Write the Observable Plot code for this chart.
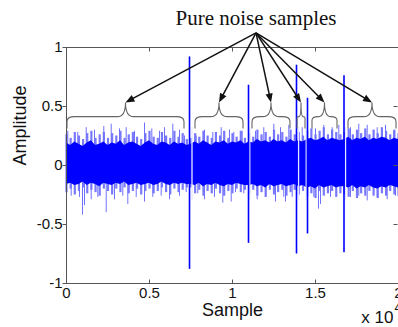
<!DOCTYPE html>
<html>
<head>
<meta charset="utf-8">
<script src="https://cdn.jsdelivr.net/npm/d3@7"></script>
<script src="https://cdn.jsdelivr.net/npm/@observablehq/plot@0.6"></script>
<style>
  html, body { margin: 0; padding: 0; background: #fff; overflow: hidden; }
  #chart svg { display: block; }
</style>
</head>
<body>
<div id="chart"></div>
<script>
// ---------- data ----------
const titleText = "Pure noise samples";
const xLabel = "Sample";
const yLabel = "Amplitude";
const xExponent = "x 10";
const xExponentPower = "4";
const xTicks = [0, 5000, 10000, 15000, 20000];
const xTickLabels = ["0", "0.5", "1", "1.5", "2"];
const yTicks = [-1, -0.5, 0, 0.5, 1];
const yTickLabels = ["-1", "-0.5", "0", "0.5", "1"];

// noise envelope, one value every 250 samples (0 .. 20000)
const envStep = 250;
const coreHi = [
  0.19,0.17,0.20,0.18,0.16,0.19,0.21,0.17,0.18,0.20,
  0.17,0.19,0.18,0.21,0.17,0.19,0.20,0.18,0.16,0.19,
  0.21,0.18,0.17,0.20,0.19,0.17,0.20,0.18,0.19,0.17,
  0.18,0.20,0.18,0.21,0.19,0.17,0.20,0.19,0.21,0.18,0.20,0.19,0.21,0.18,
  0.20,0.19,0.22,0.20,0.21,0.19,0.22,0.20,0.21,0.19,0.22,0.20,
  0.21,0.20,0.22,0.23,0.21,0.22,0.24,0.21,0.23,0.22,0.21,
  0.22,0.24,0.21,0.23,0.22,0.24,0.21,0.23,0.22,0.24,0.23,0.21,0.23,0.22
];
const coreLo = [
  -0.16,-0.15,-0.17,-0.16,-0.14,-0.17,-0.15,-0.16,-0.18,-0.15,
  -0.16,-0.17,-0.15,-0.16,-0.14,-0.17,-0.16,-0.15,-0.17,-0.16,
  -0.15,-0.17,-0.16,-0.14,-0.16,-0.17,-0.15,-0.16,-0.15,-0.16,
  -0.16,-0.17,-0.15,-0.18,-0.16,-0.17,-0.15,-0.17,-0.18,-0.16,-0.17,-0.15,-0.16,-0.17,
  -0.17,-0.16,-0.18,-0.17,-0.19,-0.16,-0.18,-0.17,-0.16,-0.18,-0.17,-0.16,
  -0.18,-0.17,-0.19,-0.18,-0.20,-0.17,-0.19,-0.18,-0.17,-0.19,-0.18,
  -0.18,-0.19,-0.17,-0.20,-0.18,-0.19,-0.17,-0.19,-0.20,-0.18,-0.19,-0.17,-0.18,-0.19
];
const fringeHi = [
  0.26,0.23,0.28,0.25,0.22,0.27,0.29,0.23,0.26,0.28,
  0.23,0.27,0.25,0.29,0.23,0.26,0.28,0.24,0.22,0.27,
  0.29,0.24,0.23,0.28,0.25,0.23,0.29,0.24,0.27,0.22,
  0.23,0.27,0.24,0.29,0.25,0.23,0.28,0.25,0.29,0.23,0.27,0.24,0.29,0.23,
  0.27,0.24,0.30,0.26,0.28,0.24,0.30,0.26,0.28,0.24,0.30,0.26,
  0.28,0.25,0.29,0.31,0.26,0.29,0.32,0.26,0.30,0.28,0.26,
  0.28,0.31,0.26,0.30,0.27,0.31,0.26,0.30,0.27,0.32,0.29,0.26,0.30,0.27
];
const fringeLo = [
  -0.23,-0.20,-0.25,-0.22,-0.19,-0.24,-0.21,-0.23,-0.26,-0.20,
  -0.22,-0.25,-0.20,-0.23,-0.19,-0.24,-0.22,-0.20,-0.25,-0.22,
  -0.20,-0.24,-0.22,-0.19,-0.23,-0.25,-0.20,-0.23,-0.21,-0.19,
  -0.19,-0.24,-0.21,-0.26,-0.22,-0.24,-0.20,-0.24,-0.26,-0.22,-0.24,-0.20,-0.23,-0.21,
  -0.24,-0.21,-0.26,-0.23,-0.27,-0.21,-0.25,-0.23,-0.21,-0.26,-0.23,-0.21,
  -0.25,-0.22,-0.27,-0.24,-0.28,-0.22,-0.26,-0.24,-0.22,-0.27,-0.24,
  -0.25,-0.27,-0.22,-0.28,-0.24,-0.26,-0.22,-0.26,-0.28,-0.24,-0.26,-0.22,-0.25,-0.26
];

// isolated noise peaks
const peakUpX = [78,681,1187,1687,2247,2693,3193,3596,4096,4699,5139,5603,5904,6404,6807,7108,
  7813,8313,8813,9319,9819,10078,10584,11385,11885,12488,12892,13392,14199,15000,15500,16006,16404,
  17108,17608,18114,18717,19217,19717];
const peakUpV = [0.29,0.28,0.32,0.30,0.33,0.35,0.31,0.32,0.29,0.36,0.31,0.29,0.32,0.35,0.30,0.25,
  0.25,0.30,0.28,0.32,0.30,0.28,0.29,0.29,0.32,0.35,0.32,0.34,0.32,0.31,0.34,0.32,0.34,
  0.32,0.35,0.34,0.32,0.34,0.29];
const peakDnX = [283,783,964,1084,1488,1886,2392,2892,3392,3693,4199,4699,5199,5705,6205,6807,7211,
  7910,8313,8916,9416,9922,10181,10681,11488,11988,12590,13090,13193,13596,14898,15180,15301,15904,
  17108,17608,18114,18717,19319,19819];
const peakDnV = [-0.26,-0.27,-0.42,-0.34,-0.29,-0.27,-0.40,-0.29,-0.26,-0.33,-0.27,-0.31,-0.27,-0.26,-0.29,-0.26,-0.23,
  -0.24,-0.29,-0.27,-0.32,-0.31,-0.23,-0.24,-0.29,-0.27,-0.31,-0.27,-0.31,-0.27,-0.27,-0.37,-0.33,-0.27,
  -0.27,-0.26,-0.30,-0.27,-0.29,-0.26];

// large spikes between noise segments
const spikeX = [7410, 10964, 13855, 14518, 16717];
const spikeHi = [0.92, 0.68, 0.85, 0.57, 0.76];
const spikeLo = [-0.88, -0.66, -0.75, -0.58, -0.74];
const gapX = [7560, 11040, 13980, 14440, 16810];

// pure-noise segments marked by braces
const braceStart = [60, 7771, 11205, 13916, 14819, 16988];
const braceEnd = [7108, 10663, 13494, 14398, 16325, 19880];

// ---------- layout constants ----------
const arrowFromX = 11446, arrowFromY = 1.119;
const braceLineY = 0.41, braceEndY = 0.31, bracePeakY = 0.53;

const noise = coreHi.map((h, i) => ({
  s: i * envStep, coreHi: h, coreLo: coreLo[i], fHi: fringeHi[i], fLo: fringeLo[i]
}));
const peaksUp = peakUpX.map((x, i) => ({x, v: peakUpV[i]}));
const peaksDn = peakDnX.map((x, i) => ({x, v: peakDnV[i]}));
const spikes = spikeX.map((x, i) => ({x, hi: spikeHi[i], lo: spikeLo[i]}));

function decorations(index, scales) {
  const {x, y} = scales;
  const g = d3.create("svg:g");
  const px = v => Math.round(v) + 0.5;
  const X0 = px(x(0)), X1 = Math.round(x(20000)) + 2, YT = px(y(1)), YB = px(y(-1));
  const axisColor = "#555";
  g.append("path")
    .attr("d", `M${X0},${YB}V${YT}H${X1}M${X0},${YB}H${X1}`)
    .attr("fill", "none").attr("stroke", axisColor).attr("stroke-width", 1);
  let d = "";
  for (const t of xTicks) {
    const tx = px(x(t));
    d += `M${tx},${YT}v4M${tx},${YB}v-4`;
  }
  for (const t of yTicks) {
    const ty = px(y(t));
    d += `M${X0},${ty}h-4M${Math.round(x(20000)) - 0.5},${ty}h-4`;
  }
  g.append("path").attr("d", d).attr("fill", "none").attr("stroke", axisColor).attr("stroke-width", 1);

  // braces
  const yl = y(braceLineY), ye = y(braceEndY), yp = y(bracePeakY);
  braceStart.forEach((s, i) => {
    const a = x(s), b = x(braceEnd[i]), m = (a + b) / 2;
    const r = Math.min(8, (b - a) / 4);
    const p = `M${a},${ye}L${a},${yl + r * 0.6}Q${a},${yl} ${a + r},${yl}` +
      `L${m - r},${yl}Q${m},${yl} ${m},${yp}Q${m},${yl} ${m + r},${yl}` +
      `L${b - r},${yl}Q${b},${yl} ${b},${yl + r * 0.6}L${b},${ye}`;
    g.append("path").attr("d", p).attr("fill", "none")
      .attr("stroke", "#666").attr("stroke-width", 1.1);
  });

  // arrows
  const ox = x(arrowFromX), oy = y(arrowFromY);
  braceStart.forEach((s, i) => {
    const tx = x((s + braceEnd[i]) / 2), ty = yp;
    const dx = tx - ox, dy = ty - oy, L = Math.hypot(dx, dy);
    const ux = dx / L, uy = dy / L;
    const hl = 9, hw = 3.6;
    const bx = tx - ux * hl, by = ty - uy * hl;
    g.append("line").attr("x1", ox).attr("y1", oy).attr("x2", bx + ux).attr("y2", by + uy)
      .attr("stroke", "#111").attr("stroke-width", 1.5);
    g.append("path")
      .attr("d", `M${tx},${ty}L${bx - uy * hw},${by + ux * hw}L${bx + uy * hw},${by - ux * hw}Z`)
      .attr("fill", "#111");
  });
  return g.node();
}

const chart = Plot.plot({
  width: 398,
  height: 327,
  marginLeft: 66,
  marginRight: 0,
  marginTop: 47,
  marginBottom: 44,
  x: {domain: [0, 20000]},
  y: {domain: [-1, 1]},
  style: {fontFamily: "'Liberation Sans', Arial, sans-serif", fontSize: "15px", color: "#111", background: "#fff"},
  marks: [
    Plot.ruleX(noise, {x: "s", y1: "fLo", y2: "fHi", stroke: "#7878ff", strokeWidth: 2.2}),
    Plot.ruleX(peaksUp, {x: "x", y1: 0, y2: "v", stroke: "#7070ff", strokeWidth: 1}),
    Plot.ruleX(peaksDn, {x: "x", y1: 0, y2: "v", stroke: "#7070ff", strokeWidth: 1}),
    Plot.areaY(noise, {x: "s", y1: "coreLo", y2: "coreHi", fill: "#0000ff"}),
    Plot.ruleX(gapX, {y1: -0.3, y2: 0.32, stroke: "#e8e8ff", strokeWidth: 1.3}),
    Plot.ruleX(spikes, {x: "x", y1: "lo", y2: "hi", stroke: "#0000ff", strokeWidth: 1.6}),
    Plot.axisY({ticks: yTicks, tickSize: 0, tickPadding: 4, label: null,
      tickFormat: d => yTickLabels[yTicks.indexOf(d)], fontSize: 15}),
    Plot.axisX({ticks: xTicks, tickSize: 0, tickPadding: 4, label: null,
      tickFormat: d => xTickLabels[xTicks.indexOf(d)], fontSize: 15}),
    decorations,
    Plot.text([titleText], {frameAnchor: "top", dx: 23.5, dy: -29, lineAnchor: "middle",
      fontFamily: "'Liberation Serif', 'Times New Roman', serif", fontSize: 21, fill: "#111"}),
    Plot.text([yLabel], {frameAnchor: "left", dx: -46, rotate: -90, fontSize: 18, fill: "#111"}),
    Plot.text([xLabel], {frameAnchor: "bottom", dy: 27, lineAnchor: "middle", fontSize: 18, fill: "#111"}),
    Plot.text([xExponent], {frameAnchor: "bottom-right", dx: -5, dy: 34, lineAnchor: "middle",
      textAnchor: "end", fontSize: 17, fill: "#111"}),
    Plot.text([xExponentPower], {frameAnchor: "bottom-right", dx: -4, dy: 25, lineAnchor: "middle",
      textAnchor: "start", fontSize: 12, fill: "#111"})
  ]
});
document.getElementById("chart").appendChild(chart);
</script>
</body>
</html>
